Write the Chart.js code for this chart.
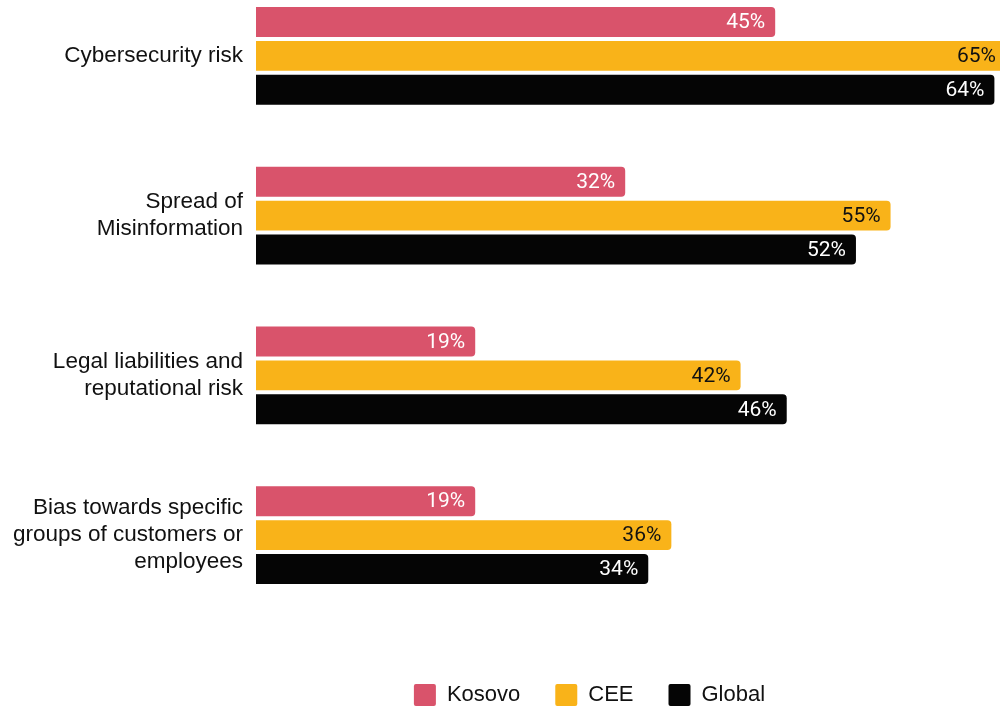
<!DOCTYPE html>
<html>
<head>
<meta charset="utf-8">
<script src="https://cdn.jsdelivr.net/npm/chart.js@4.4.1/dist/chart.umd.min.js"></script>
<style>
  html, body { margin: 0; padding: 0; background: #fff; }
  body { width: 1000px; height: 706px; overflow: hidden; position: relative; }
  #wrap { position: absolute; left: 0; top: -24px; width: 1190px; height: 740px; }
</style>
</head>
<body>
<div id="wrap"><canvas id="c" width="1190" height="740"></canvas></div>
<script>
const categories = [
  'Cybersecurity risk',
  ['Spread of', 'Misinformation'],
  ['Legal liabilities and', 'reputational risk'],
  ['Bias towards specific', 'groups of customers or', 'employees']
];
const seriesNames = ['Kosovo', 'CEE', 'Global'];
const kosovo = [45, 32, 19, 19];
const cee = [65, 55, 42, 36];
const global = [64, 52, 46, 34];
const seriesColors = ['#D9536B', '#F9B319', '#050505'];
const labelColors = ['#ffffff', '#111111', '#ffffff'];

// value labels drawn inside the end of each bar
const valueLabels = {
  id: 'valueLabels',
  afterDatasetsDraw(chart) {
    const ctx = chart.ctx;
    ctx.save();
    ctx.font = '21px Roboto';
    ctx.textAlign = 'right';
    ctx.textBaseline = 'middle';
    chart.data.datasets.forEach((ds, i) => {
      const meta = chart.getDatasetMeta(i);
      meta.data.forEach((bar, j) => {
        ctx.fillStyle = labelColors[i];
        ctx.fillText(ds.data[j] + '%', bar.x - 10, bar.y + 1);
      });
    });
    ctx.restore();
  }
};

const makeSet = (label, data, i) => ({
  label,
  data,
  backgroundColor: seriesColors[i],
  borderRadius: 4,
  borderSkipped: 'start',
  categoryPercentage: 0.6375,
  barPercentage: 0.882
});

new Chart(document.getElementById('c'), {
  type: 'bar',
  data: {
    labels: categories,
    datasets: [
      makeSet(seriesNames[0], kosovo, 0),
      makeSet(seriesNames[1], cee, 1),
      makeSet(seriesNames[2], global, 2)
    ]
  },
  plugins: [valueLabels],
  options: {
    indexAxis: 'y',
    responsive: false,
    animation: false,
    layout: { padding: { top: 0, right: 11, bottom: 0, left: 0 } },
    scales: {
      x: {
        min: 0,
        max: 80,
        grid: { display: false },
        border: { display: false },
        ticks: { display: false },
        afterFit(scale) {
          scale.height = 34;
          scale.paddingLeft = 0; scale.paddingRight = 0;
        }
      },
      y: {
        grid: { display: false },
        border: { display: false },
        ticks: {
          color: '#111',
          padding: 5,
          font: { family: 'Liberation Sans', size: 22.5, lineHeight: 1.2 }
        },
        afterFit(scale) {
          scale.width = 256;
          scale.paddingTop = 0; scale.paddingBottom = 0;
        }
      }
    },
    plugins: {
      tooltip: { enabled: false },
      legend: {
        position: 'bottom',
        labels: {
          color: '#111',
          boxWidth: 22,
          boxHeight: 22,
          padding: 35,
          font: { family: 'Liberation Sans', size: 22 },
          useBorderRadius: true,
          generateLabels(chart) {
            return chart.data.datasets.map((ds, i) => ({
              text: ds.label,
              fillStyle: seriesColors[i],
              strokeStyle: seriesColors[i],
              lineWidth: 0,
              borderRadius: 2,
              hidden: false,
              datasetIndex: i,
              fontColor: '#111'
            }));
          }
        }
      }
    }
  }
});
</script>
</body>
</html>
